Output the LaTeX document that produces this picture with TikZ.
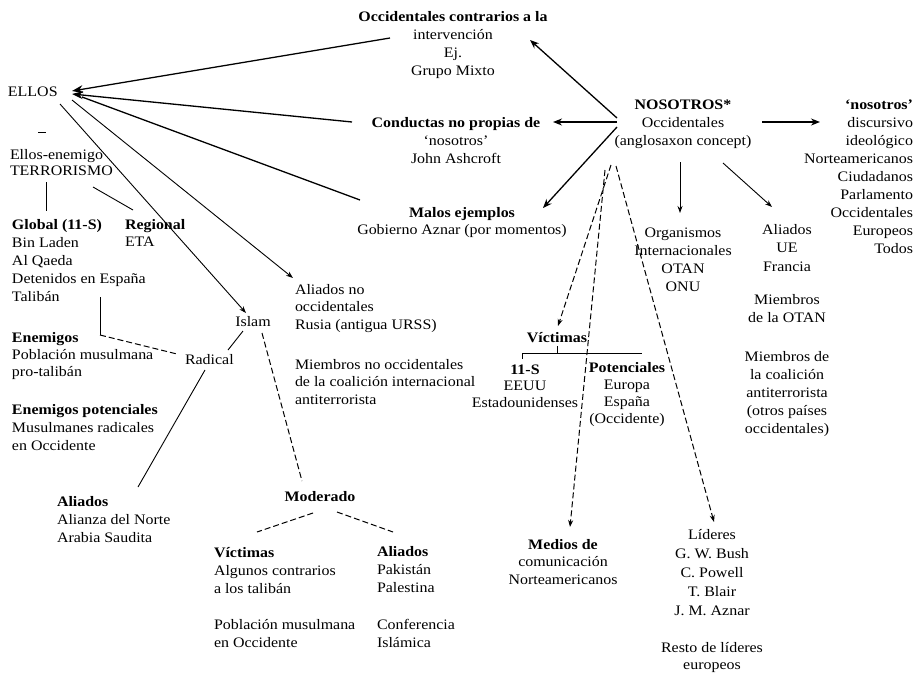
\documentclass[tikz,border=0pt]{standalone}
\usepackage{fontspec}
\setmainfont{Liberation Serif}[FakeStretch=1.1]
\usetikzlibrary{arrows.meta,calc}
\newcommand\mystr{\rule{0pt}{11pt}}
\begin{document}
\begin{tikzpicture}[x=1pt,y=-1pt,
  txt/.style={inner sep=0pt, outer sep=0pt, font=\fontsize{14.5}{18}\selectfont},
  lblk/.style={txt, align=left, anchor=north west},
  cblk/.style={txt, align=center, anchor=north},
  rblk/.style={txt, align=right, anchor=north east},
  arrA/.style={line width=1.3pt, -{Stealth[length=9pt,width=7pt]}},
  arrE/.style={line width=1.3pt, -{Stealth[length=11pt,width=8pt]}},
  arrS/.style={line width=0.9pt, -{Stealth[length=7pt,width=5pt]}},
  ln/.style={line width=0.9pt},
  dln/.style={line width=1pt, dash pattern=on 6pt off 3pt},
  darr/.style={dln, -{Stealth[length=7pt,width=5pt]}}
]
\useasboundingbox (0,0) rectangle (923,672);

% ---------- nodes ----------
\node[cblk] (top) at (453,10) {\mystr\textbf{Occidentales contrarios a la}\\intervención\\Ej.\\Grupo Mixto};
\node[cblk] (cond) at (456,116) {\mystr\textbf{Conductas no propias de}\\‘nosotros’\\John Ashcroft};
\node[cblk, font=\fontsize{14.5}{17}\selectfont] (malos) at (462,206) {\mystr\textbf{Malos ejemplos}\\Gobierno Aznar (por momentos)};
\node[cblk] (nos) at (683,98) {\mystr\textbf{NOSOTROS*}\\Occidentales\\(anglosaxon concept)};
\node[rblk] (nosd) at (913,98) {\mystr\textbf{‘nosotros’}\\discursivo\\ideológico\\Norteamericanos\\Ciudadanos\\Parlamento\\Occidentales\\Europeos\\Todos};

\node[lblk] (ellos) at (8,85) {\mystr ELLOS};
\node[lblk, font=\fontsize{14.5}{16}\selectfont] (enem) at (10,148) {\mystr Ellos-enemigo\\TERRORISMO};
\node[lblk] (glob) at (12,218) {\mystr\textbf{Global (11-S)}\\Bin Laden\\Al Qaeda\\Detenidos en España\\Talibán};
\node[lblk, font=\fontsize{14.5}{17}\selectfont] (reg) at (125,218) {\mystr\textbf{Regional}\\ETA};
\node[lblk, font=\fontsize{14.5}{17}\selectfont] (enemigos) at (12,331) {\mystr\textbf{Enemigos}\\Población musulmana\\pro-talibán};
\node[lblk, font=\fontsize{14.5}{18}\selectfont] (enpot) at (12,403) {\mystr\textbf{Enemigos potenciales}\\Musulmanes radicales\\en Occidente};
\node[cblk] (islam) at (253,315) {\mystr Islam};
\node[lblk] (radical) at (185,353) {\mystr Radical};
\node[lblk] (ali1) at (57,495) {\mystr\textbf{Aliados}\\Alianza del Norte\\Arabia Saudita};
\node[cblk] (moder) at (320,490) {\mystr\textbf{Moderado}};
\node[lblk] (vict1) at (214,546) {\mystr\textbf{Víctimas}\\Algunos contrarios\\a los talibán};
\node[lblk] (pobl) at (214,618) {\mystr Población musulmana\\en Occidente};
\node[lblk] (ali2) at (377,545) {\mystr\textbf{Aliados}\\Pakistán\\Palestina};
\node[lblk] (conf) at (377,618) {\mystr Conferencia\\Islámica};
\node[lblk, font=\fontsize{14.5}{17.5}\selectfont] (alino) at (295,283) {\mystr Aliados no\\occidentales\\Rusia (antigua URSS)};
\node[lblk, font=\fontsize{14.5}{17.5}\selectfont] (miemno) at (295,358) {\mystr Miembros no occidentales\\de la coalición internacional\\antiterrorista};

\node[cblk] (vict2) at (557,331) {\mystr\textbf{Víctimas}};
\node[cblk, font=\fontsize{14.5}{16.5}\selectfont] (once) at (525,363) {\mystr\textbf{11-S}\\EEUU\\Estadounidenses};
\node[cblk, font=\fontsize{14.5}{17}\selectfont] (pot) at (627,361) {\mystr\textbf{Potenciales}\\Europa\\España\\(Occidente)};
\node[cblk] (org) at (683,226) {\mystr Organismos\\Internacionales\\OTAN\\ONU};
\node[cblk, font=\fontsize{14.5}{18.5}\selectfont] (aliue) at (787,223) {\mystr Aliados\\UE\\Francia};
\node[cblk] (miotan) at (787,293) {\mystr Miembros\\de la OTAN};
\node[cblk] (miecoal) at (787,350) {\mystr Miembros de\\la coalición\\antiterrorista\\(otros países\\occidentales)};
\node[cblk, font=\fontsize{14.5}{17.5}\selectfont] (medios) at (563,538) {\mystr\textbf{Medios de}\\comunicación\\Norteamericanos};
\node[cblk, font=\fontsize{14.5}{19}\selectfont] (lid) at (712,528) {\mystr Líderes\\G. W. Bush\\C. Powell\\T. Blair\\J. M. Aznar};
\node[cblk, font=\fontsize{14.5}{17}\selectfont] (resto) at (712,641) {\mystr Resto de líderes\\europeos};

% ---------- NOSOTROS connectors ----------
\draw[arrA] ($(nos.north)+(-66,20)$) -- ($(top.north)+(77,30)$);
\draw[arrA] ($(nos.north)+(-66,24)$) -- ($(cond.north)+(97,6)$);
\draw[arrA] ($(nos.north)+(-66,29)$) -- ($(malos.north)+(81,2)$);
\draw[arrA] ($(nos.north)+(79,24)$) -- ($(nosd.north east)+(-93,24)$);
\draw[arrS] ($(nos.north)+(-3,64)$) -- ($(org.north)+(-3,-13)$);
\draw[arrS] ($(nos.north)+(40,65)$) -- ($(aliue.north)+(-15,-16)$);
\draw[darr] ($(nos.north)+(-72,67)$) -- ($(vict2.north)+(1,-5)$);
\draw[darr] ($(nos.north)+(-78,72)$) -- ($(medios.north)+(7,-11)$);
\draw[darr] ($(nos.north)+(-67,68)$) -- ($(lid.north)+(2,-6)$);

% Victimas bracket
\draw[ln] ($(vict2.north)+(0,15)$) -- ($(vict2.north)+(0,22)$);
\draw[ln] ($(vict2.north)+(-35,22)$) -- ($(vict2.north)+(85,22)$);
\draw[ln] ($(vict2.north)+(-35,22)$) -- ($(vict2.north)+(-35,28)$);

% ---------- ELLOS connectors ----------
\draw[arrE] ($(top.north)+(-63,28)$) -- ($(ellos.north west)+(64,6)$);
\draw[arrE] ($(cond.north)+(-104,6)$) -- ($(ellos.north west)+(64,9)$);
\draw[line width=1.3pt] ($(malos.north)+(-102,-6)$) -- ($(ellos.north west)+(74,12)$);
\draw[arrS] ($(ellos.north west)+(52,19)$) -- ($(islam.north)+(-7,-2)$);
\draw[arrS] ($(ellos.north west)+(64,15)$) -- ($(alino.north west)+(-2,-5)$);
\draw[ln] ($(ellos.north west)+(30,47)$) -- ($(ellos.north west)+(38,47)$);

% terrorism tree
\draw[ln] ($(enem.north west)+(36,34)$) -- ($(glob.north west)+(34,-7)$);
\draw[ln] ($(enem.north west)+(83,39)$) -- ($(reg.north west)+(8,-8)$);
\coordinate (kink) at (100,335);
\draw[ln] ($(glob.north west)+(88,79)$) -- (kink);
\draw[dln] (kink) -- ($(radical.north west)+(-8,1)$);

% Islam tree
\draw[ln] ($(islam.north)+(-10,16)$) -- ($(radical.north west)+(43,-3)$);
\draw[ln] ($(radical.north west)+(20,17)$) -- ($(ali1.north west)+(81,-8)$);
\draw[dln] ($(islam.north)+(9,18)$) -- ($(moder.north)+(-18,-9)$);
\draw[dln] ($(moder.north)+(-7,23)$) -- ($(vict1.north west)+(43,-14)$);
\draw[dln] ($(moder.north)+(17,22)$) -- ($(ali2.north west)+(16,-13)$);
\end{tikzpicture}
\end{document}
